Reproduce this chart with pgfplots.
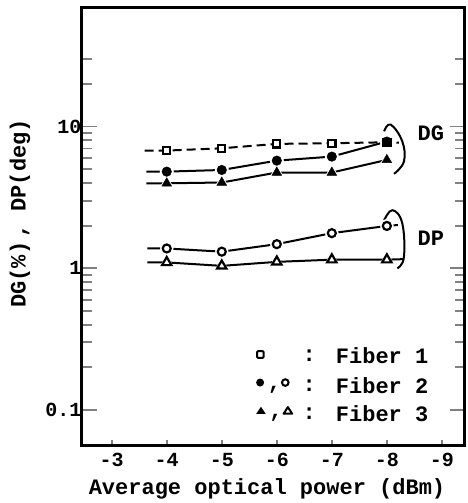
\documentclass[border=0pt]{standalone}
\usepackage{fontspec}
\setmainfont{Liberation Mono}
\usepackage{pgfplots}
\pgfplotsset{compat=1.18}
\newcommand{\lbl}{\fontsize{22}{26}\selectfont\bfseries}
\newcommand{\tkl}{\fontsize{20}{23}\selectfont\bfseries}
% small legend glyphs
\newcommand{\osq}{\tikz[baseline=-0.6ex]\draw[line width=2pt, rounded corners=1pt] (-3.3pt,-3.3pt) rectangle (3.3pt,3.3pt);}
\newcommand{\fci}{\tikz[baseline=-0.6ex]\fill (0,0) circle (4pt);}
\newcommand{\oci}{\tikz[baseline=-0.6ex]\draw[line width=2pt] (0,0) circle (3.3pt);}
\newcommand{\ftr}{\tikz[baseline=-0.6ex]\fill (-4.8pt,-3pt) -- (4.8pt,-3pt) -- (0,4.2pt) -- cycle;}
\newcommand{\otr}{\tikz[baseline=-0.6ex]\draw[line width=2pt, line join=round] (-4.3pt,-2.8pt) -- (4.3pt,-2.8pt) -- (0,3.8pt) -- cycle;}

\begin{document}
\begin{tikzpicture}
\useasboundingbox (-82pt,-58pt) rectangle (386pt,445pt);
\begin{axis}[
  at={(0,0)}, anchor=south west,
  width=383pt, height=437pt, scale only axis,
  ymode=log, ymin=0.0566, ymax=68.7,
  x dir=reverse, xmin=-9.42, xmax=-2.46,
  axis line style={line width=3pt},
  tick align=inside, xtick pos=lower, ytick pos=both,
  xtick={-3,-4,-5,-6,-7,-8,-9},
  xticklabels={-3,-4,-5,-6,-7,-8,-9},
  ytick={0.1,1,10}, yticklabels={0.1,1,10},
  minor ytick={0.2,0.3,0.4,0.5,0.6,0.7,0.8,0.9,2,3,4,5,6,7,8,9,20,30},
  major tick length=15pt, minor tick length=10pt,
  ytick style={line width=1.8pt},
  xtick style={line width=1.8pt, /pgfplots/major tick length=5pt},
  xticklabel style={font=\tkl, yshift=-5pt},
  yticklabel style={font=\tkl, xshift=3pt},
  xlabel={Average optical power (dBm)},
  ylabel={DG(\%)\,, DP(deg)},
  xlabel style={font=\lbl, at={(axis description cs:0.483,-0.1)}, anchor=center},
  ylabel style={font=\lbl, at={(axis description cs:-0.162,0.53)}, anchor=center, rotate=0},
  clip=false,
]
% connecting lines (with short stubs past the end points)
\addplot[black, line width=2pt, dash pattern=on 9pt off 5pt] coordinates {(-3.6,6.77) (-4,6.77) (-5,7.03) (-6,7.55) (-7,7.63) (-8,7.75) (-8.22,7.7)};
\addplot[black, line width=2pt] coordinates {(-3.63,4.81) (-4,4.81) (-5,4.94) (-6,5.75) (-7,6.14) (-8,7.84)};
\addplot[black, line width=2pt] coordinates {(-3.63,3.98) (-4,3.98) (-5,4.03) (-6,4.74) (-7,4.74) (-8,5.82)};
\addplot[black, line width=2pt] coordinates {(-3.65,1.38) (-4,1.38) (-5,1.31) (-6,1.48) (-7,1.77) (-8,1.99) (-8.2,2.02)};
\addplot[black, line width=2pt] coordinates {(-3.65,1.10) (-4,1.10) (-5,1.04) (-6,1.11) (-7,1.15) (-8,1.15) (-8.3,1.16)};
% white halos give the gaps round the marks
\addplot[only marks, white, mark=square*, mark size=4.6pt] coordinates {(-4,6.77) (-5,7.03) (-6,7.55) (-7,7.63) (-8,7.75)};
\addplot[only marks, white, mark=*, mark size=6.8pt] coordinates {(-4,4.81) (-5,4.94) (-6,5.75) (-7,6.14) (-8,7.84)};
\addplot[only marks, white, mark=triangle*, mark size=7.5pt] coordinates {(-4,3.98) (-5,4.03) (-6,4.74) (-7,4.74) (-8,5.82)};
\addplot[only marks, white, mark=*, mark size=6.5pt] coordinates {(-4,1.38) (-5,1.31) (-6,1.48) (-7,1.77) (-8,1.99)};
\addplot[only marks, white, mark=triangle*, mark size=7.5pt] coordinates {(-4,1.10) (-5,1.04) (-6,1.11) (-7,1.15) (-8,1.15)};
% marks
\addplot[only marks, black, mark=square*, mark size=3.6pt, mark options={fill=white, line width=2.2pt}] coordinates {(-4,6.77) (-5,7.03) (-6,7.55) (-7,7.63) (-8,7.75)};
\addplot[only marks, black, mark=*, mark size=4.8pt] coordinates {(-4,4.81) (-5,4.94) (-6,5.75) (-7,6.14) (-8,7.84)};
\addplot[only marks, black, mark=triangle*, mark size=5.6pt] coordinates {(-4,3.98) (-5,4.03) (-6,4.74) (-7,4.74) (-8,5.82)};
\addplot[only marks, black, mark=*, mark size=4pt, mark options={fill=white, line width=2.2pt}] coordinates {(-4,1.38) (-5,1.31) (-6,1.48) (-7,1.77) (-8,1.99)};
\addplot[only marks, black, mark=triangle*, mark size=5.4pt, mark options={fill=white, line width=2.2pt}] coordinates {(-4,1.10) (-5,1.04) (-6,1.11) (-7,1.15) (-8,1.15)};
% brackets
\draw[line width=2pt] plot[smooth, tension=0.7] coordinates {(axis cs:-7.95,9.26) (axis cs:-8.07,10.33) (axis cs:-8.28,7.87) (axis cs:-8.31,5.67) (axis cs:-8.13,4.64)};
\draw[line width=2pt] plot[smooth, tension=0.7] coordinates {(axis cs:-7.95,2.18) (axis cs:-8.10,2.57) (axis cs:-8.28,2.08) (axis cs:-8.31,1.196) (axis cs:-8.19,1.0)};
\node[font=\lbl] at (axis cs:-8.80,8.97) {DG};
\node[font=\lbl] at (axis cs:-8.80,1.63) {DP};
% legend anchors, filled in after the axis
\coordinate (L1) at (axis cs:-5.56,0.241);
\coordinate (L2) at (axis cs:-5.56,0.148);
\coordinate (L3) at (axis cs:-5.56,0.0937);
\node[font=\lbl] at (axis cs:-6.59,0.241) {:};
\node[font=\lbl] at (axis cs:-6.59,0.148) {:};
\node[font=\lbl] at (axis cs:-6.59,0.0937) {:};
\node[anchor=west, font=\lbl] at (axis cs:-7.01,0.241) {Fiber 1};
\node[anchor=west, font=\lbl] at (axis cs:-7.01,0.148) {Fiber 2};
\node[anchor=west, font=\lbl] at (axis cs:-7.01,0.0937) {Fiber 3};
\end{axis}
\node[anchor=west, font=\lbl] at (L1) {\osq};
\node[anchor=west, font=\lbl] at (L2) {\fci\,,\oci};
\node[anchor=west, font=\lbl] at (L3) {\ftr\,,\otr};
\end{tikzpicture}
\end{document}
